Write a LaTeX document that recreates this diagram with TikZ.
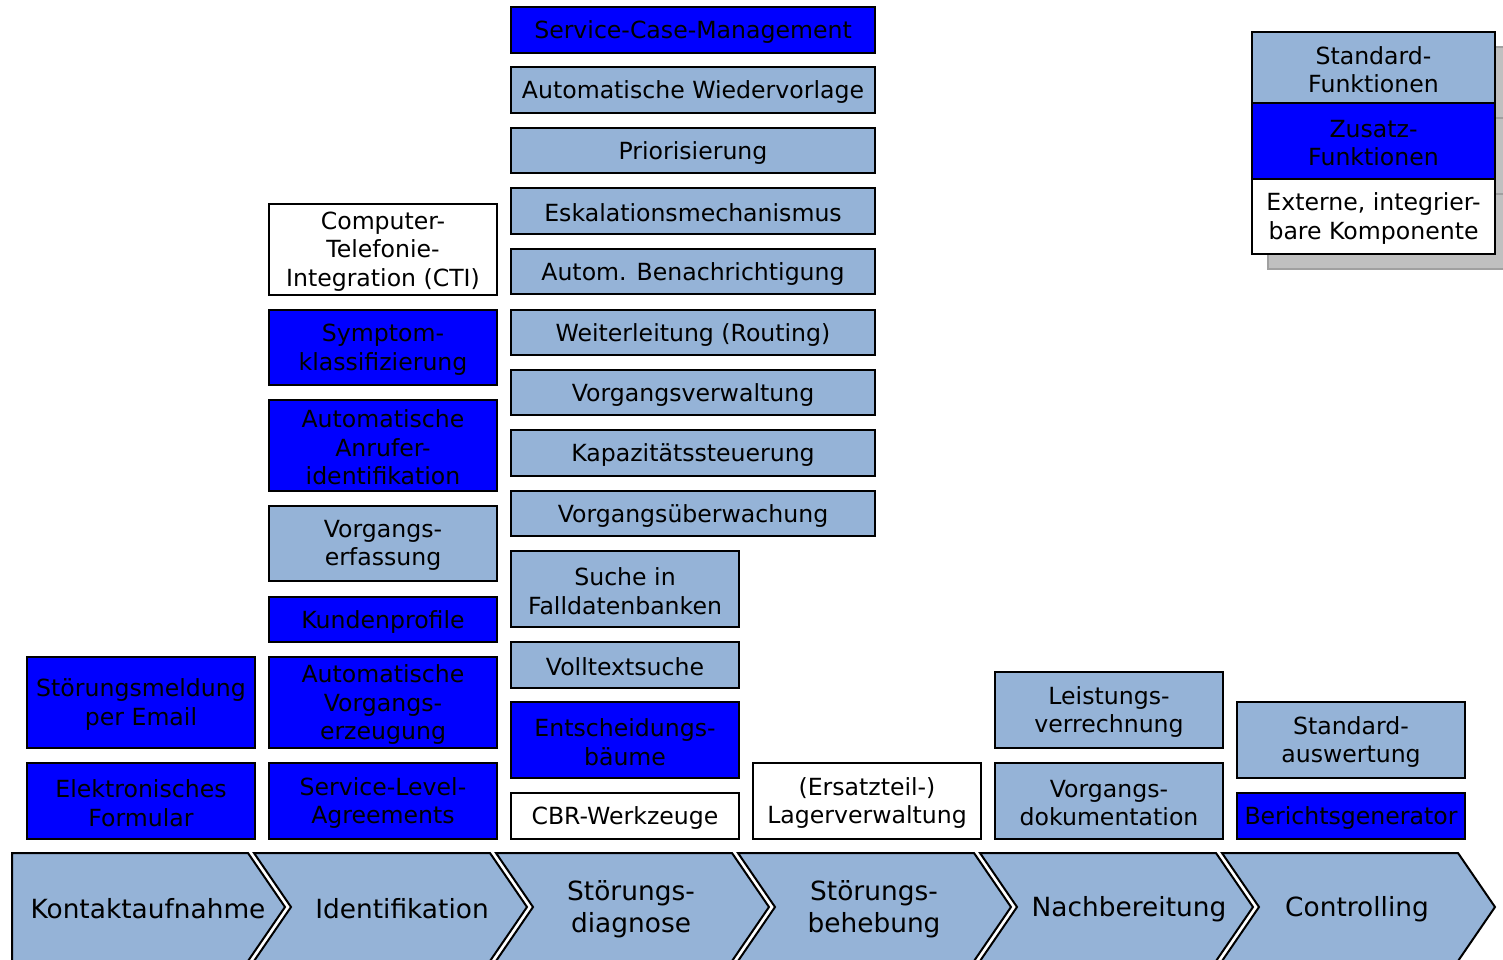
\documentclass[tikz,border=0pt]{standalone}
\usepackage{fontspec}
\setmainfont{DejaVu Sans}
\definecolor{stdfill}{HTML}{95B3D7}
\definecolor{addfill}{HTML}{0000FF}
\definecolor{shadefill}{HTML}{C0C0C0}
\definecolor{shadeline}{HTML}{A0A0A0}

\tikzset{
  featbox/.style={draw=black, line width=1pt, inner sep=0pt, align=center,
    font=\fontsize{11.8}{14.25}\selectfont},
  stdbox/.style={featbox, fill=stdfill},
  addbox/.style={featbox, fill=addfill},
  extbox/.style={featbox, fill=white},
  shadebox/.style={draw=shadeline, fill=shadefill, line width=1pt},
  phase/.style={draw=black, line width=1pt, fill=stdfill, line join=miter},
  phasetext/.style={font=\fontsize{13.2}{16}\selectfont, align=center, inner sep=0pt},
  featlabel/.style={font=\fontsize{11.8}{14.25}\selectfont, align=center, inner sep=0pt},
}

% box from (x1,y1) to (x2,y2): name, x1, y1, x2, y2, style, text
% the label sits a little below the geometric centre of the box
\newcommand\featnode[7]{%
  \node[#6, anchor=north west, minimum width={(#4-#2)*0.5pt},
        minimum height={(#5-#3)*0.5pt}] (#1) at (#2,#3) {};
  \node[featlabel, yshift=-1pt] (#1-text) at (#1.center) {#7};}

% process chevron with left edge at x = #1; #2 = 1 for the first (flat left side)
\newcommand\phasearrow[2]{%
  \ifnum#2=1
    \draw[phase] (#1,853) -- ++(236,0) -- ++(37,54) -- ++(-37,54) -- ++(-236,0) -- cycle;
  \else
    \draw[phase] (#1,853) -- ++(236,0) -- ++(37,54) -- ++(-37,54) -- ++(-236,0) -- ++(37,-54) -- cycle;
  \fi}

\begin{document}
\begin{tikzpicture}[x=0.5pt, y=-0.5pt]
\useasboundingbox (0,0) rectangle (1503,959);

% process chain
\phasearrow{12}{1}
\phasearrow{254}{0}
\phasearrow{496}{0}
\phasearrow{738}{0}
\phasearrow{980}{0}
\phasearrow{1222}{0}
\node[phasetext] (p1) at (148,909) {Kontaktaufnahme};
\node[phasetext] (p2) at (402,909) {Identifikation};
\node[phasetext] (p3) at (631,909) {Störungs-\\diagnose};
\node[phasetext] (p4) at (874,909) {Störungs-\\behebung};
\node[phasetext] (p5) at (1129,909) {Nachbereitung};
\node[phasetext] (p6) at (1357,909) {Controlling};

% Kontaktaufnahme
\featnode{emailmsg}{26}{656}{254}{747}{addbox}{Störungsmeldung\\per Email}
\featnode{eform}{26}{762}{254}{838}{addbox}{Elektronisches\\Formular}

% Identifikation
\featnode{cti}{268}{203}{496}{294}{extbox}{Computer-\\Telefonie-\\Integration (CTI)}
\featnode{symptom}{268}{309}{496}{384}{addbox}{Symptom-\\klassifizierung}
\featnode{callerid}{268}{399}{496}{490}{addbox}{Automatische\\Anrufer-\\identifikation}
\featnode{capture}{268}{505}{496}{580}{stdbox}{Vorgangs-\\erfassung}
\featnode{profiles}{268}{596}{496}{641}{addbox}{Kundenprofile}
\featnode{autocase}{268}{656}{496}{747}{addbox}{Automatische\\Vorgangs-\\erzeugung}
\featnode{sla}{268}{762}{496}{838}{addbox}{Service-Level-\\Agreements}

% Stoerungsdiagnose
\featnode{scm}{510}{6}{874}{52}{addbox}{Service-Case-Management}
\featnode{resub}{510}{66}{874}{112}{stdbox}{Automatische Wiedervorlage}
\featnode{prio}{510}{127}{874}{172}{stdbox}{Priorisierung}
\featnode{escal}{510}{187}{874}{233}{stdbox}{Eskalationsmechanismus}
\featnode{notify}{510}{248}{874}{293}{stdbox}{Autom. Benachrichtigung}
\featnode{routing}{510}{309}{874}{354}{stdbox}{Weiterleitung (Routing)}
\featnode{casemgmt}{510}{369}{874}{414}{stdbox}{Vorgangsverwaltung}
\featnode{capacity}{510}{429}{874}{475}{stdbox}{Kapazitätssteuerung}
\featnode{monitor}{510}{490}{874}{535}{stdbox}{Vorgangsüberwachung}
\featnode{casedb}{510}{550}{738}{626}{stdbox}{Suche in\\Falldatenbanken}
\featnode{fulltext}{510}{641}{738}{687}{stdbox}{Volltextsuche}
\featnode{dtree}{510}{701}{738}{777}{addbox}{Entscheidungs-\\bäume}
\featnode{cbr}{510}{792}{738}{838}{extbox}{CBR-Werkzeuge}

% Stoerungsbehebung
\featnode{stock}{752}{762}{980}{838}{extbox}{(Ersatzteil-)\\Lagerverwaltung}

% Nachbereitung
\featnode{billing}{994}{671}{1222}{747}{stdbox}{Leistungs-\\verrechnung}
\featnode{docu}{994}{762}{1222}{838}{stdbox}{Vorgangs-\\dokumentation}

% Controlling
\featnode{stdrep}{1236}{701}{1464}{777}{stdbox}{Standard-\\auswertung}
\featnode{reportgen}{1236}{792}{1464}{838}{addbox}{Berichtsgenerator}

% legend with drop shadow
\draw[shadebox] (1268,47) rectangle (1511,118);
\draw[shadebox] (1268,118) rectangle (1511,194);
\draw[shadebox] (1268,194) rectangle (1511,269);
\featnode{legstd}{1251}{31}{1494}{102}{stdbox}{Standard-\\Funktionen}
\featnode{legadd}{1251}{102}{1494}{178}{addbox}{Zusatz-\\Funktionen}
\featnode{legext}{1251}{178}{1494}{253}{extbox}{Externe, integrier-\\bare Komponente}
\end{tikzpicture}
\end{document}
